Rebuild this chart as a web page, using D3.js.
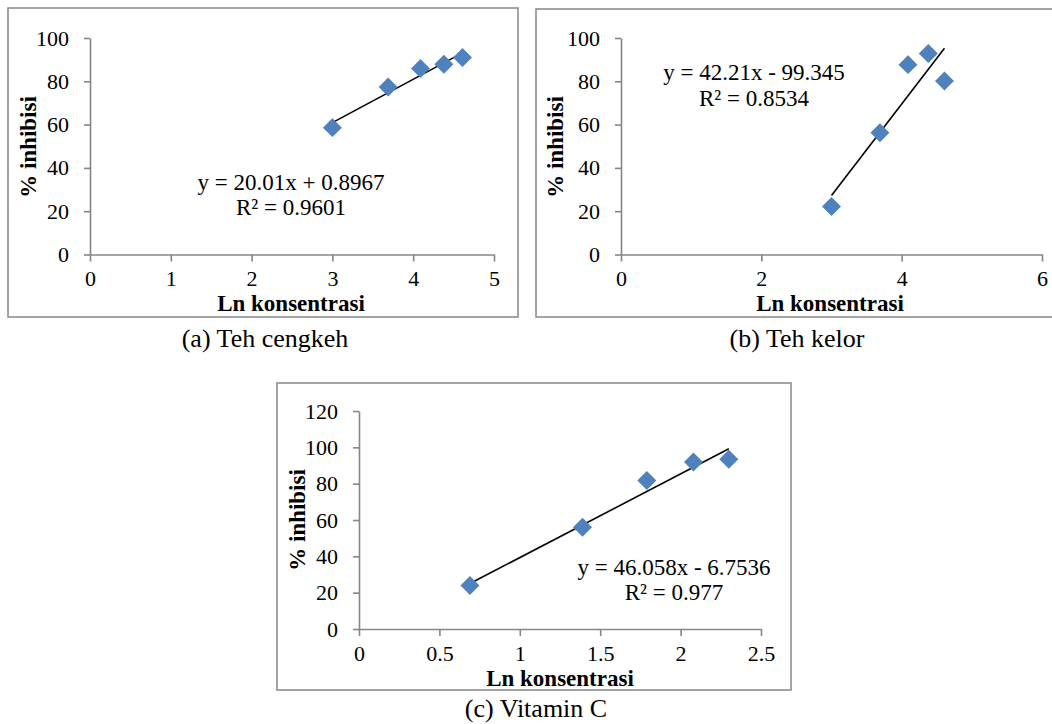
<!DOCTYPE html>
<html>
<head>
<meta charset="utf-8">
<script src="https://cdn.jsdelivr.net/npm/d3@7"></script>
<style>
  html, body { margin: 0; padding: 0; background: #fff; }
  svg { display: block; }
  svg text { font-family: "Liberation Serif", "DejaVu Serif", "Times New Roman", serif !important; fill: #000; }
</style>
</head>
<body>
<svg id="chart" width="1052" height="724"></svg>
<script>
// ---- data ----
const lnA = [3.00, 3.69, 4.09, 4.38, 4.61];
const inhA = [58.6, 77.4, 85.9, 87.9, 91.0];
const lnB = [3.00, 3.69, 4.09, 4.38, 4.61];
const inhB = [22.2, 56.2, 87.7, 92.8, 80.1];
const lnC = [0.69, 1.39, 1.79, 2.08, 2.30];
const inhC = [23.9, 56.0, 81.8, 91.9, 93.4];

const slopes = [20.01, 42.21, 46.058];
const intercepts = [0.8967, -99.345, -6.7536];
const eqLabels = ["y = 20.01x + 0.8967", "y = 42.21x - 99.345", "y = 46.058x - 6.7536"];
const r2Labels = ["R² = 0.9601", "R² = 0.8534", "R² = 0.977"];
const captions = ["(a) Teh cengkeh", "(b) Teh kelor", "(c) Vitamin C"];

const xTicksA = [0, 1, 2, 3, 4, 5];
const xTicksB = [0, 2, 4, 6];
const xTicksC = [0, 0.5, 1, 1.5, 2, 2.5];
const yTicksAB = [0, 20, 40, 60, 80, 100];
const yTicksC = [0, 20, 40, 60, 80, 100, 120];

const xTitle = "Ln konsentrasi";
const yTitle = "% inhibisi";

// ---- layout ----
const panels = [
  { xs: lnA, ys: inhA, xTicks: xTicksA, yTicks: yTicksAB, xDom: [0, 5], yDom: [0, 100],
    frame: [8, 8, 518, 317], px: [90, 494], py: [254.5, 38],
    eq: [291, 182, 207], xt: [291, 303], yt: [28, 147], cap: [265, 338] },
  { xs: lnB, ys: inhB, xTicks: xTicksB, yTicks: yTicksAB, xDom: [0, 6], yDom: [0, 100],
    frame: [536, 9, 1060, 317], px: [621, 1042], py: [254.5, 38],
    eq: [754, 72, 98], xt: [830, 303], yt: [555, 147], cap: [797, 338] },
  { xs: lnC, ys: inhC, xTicks: xTicksC, yTicks: yTicksC, xDom: [0, 2.5], yDom: [0, 120],
    frame: [277, 383, 791, 690], px: [359, 761], py: [629, 411],
    eq: [674, 567, 592], xt: [560, 678], yt: [297, 520], cap: [536, 708] }
];

const FONT = '"Liberation Serif", "DejaVu Serif", "Times New Roman", serif';
const svg = d3.select("#chart");
const axisColor = "#868686";
const blue = "#4F81BD";

panels.forEach((p, i) => {
  const g = svg.append("g");
  const [fx0, fy0, fx1, fy1] = p.frame;
  g.append("rect")
    .attr("x", fx0).attr("y", fy0)
    .attr("width", fx1 - fx0).attr("height", fy1 - fy0)
    .attr("fill", "#fff").attr("stroke", "#8e8e8e").attr("stroke-width", 1.6);

  const x = d3.scaleLinear().domain(p.xDom).range(p.px);
  const y = d3.scaleLinear().domain(p.yDom).range(p.py);

  const yAxis = g.append("g").attr("transform", `translate(${p.px[0]},0)`)
    .call(d3.axisLeft(y).tickValues(p.yTicks).tickFormat(String).tickSize(6).tickSizeOuter(0).tickPadding(15));
  const xAxis = g.append("g").attr("transform", `translate(0,${p.py[0]})`)
    .call(d3.axisBottom(x).tickValues(p.xTicks).tickFormat(String).tickSize(7).tickSizeOuter(0).tickPadding(9));
  [yAxis, xAxis].forEach(a => {
    a.attr("font-family", FONT).attr("font-size", 22);
    a.selectAll("path, line").attr("stroke", axisColor).attr("stroke-width", 1.6);
    a.selectAll("text").style("font-size", "22px").attr("fill", "#000").style("font-family", FONT);
  });

  // trend line
  const x0 = d3.min(p.xs), x1 = d3.max(p.xs);
  g.append("line")
    .attr("x1", x(x0)).attr("y1", y(slopes[i] * x0 + intercepts[i]))
    .attr("x2", x(x1)).attr("y2", y(slopes[i] * x1 + intercepts[i]))
    .attr("stroke", "#000").attr("stroke-width", 1.6);

  // markers
  const pts = p.xs.map((v, k) => [v, p.ys[k]]);
  g.selectAll("path.pt").data(pts).enter().append("path")
    .attr("class", "pt")
    .attr("d", d3.symbol().type(d3.symbolSquare).size(180))
    .attr("transform", d => `translate(${x(d[0])},${y(d[1])}) rotate(45)`)
    .attr("fill", blue);

  // equation
  g.append("text").attr("x", p.eq[0]).attr("y", p.eq[1]).attr("dy", "0.35em")
    .attr("text-anchor", "middle").style("font-family", FONT).style("font-size", "23px").text(eqLabels[i]);
  g.append("text").attr("x", p.eq[0]).attr("y", p.eq[2]).attr("dy", "0.35em")
    .attr("text-anchor", "middle").style("font-family", FONT).style("font-size", "23px").text(r2Labels[i]);

  // axis titles
  g.append("text").attr("x", p.xt[0]).attr("y", p.xt[1]).attr("dy", "0.35em")
    .attr("text-anchor", "middle").style("font-family", FONT).style("font-size", "23px").style("font-weight", "bold").text(xTitle);
  g.append("text").attr("transform", `translate(${p.yt[0]},${p.yt[1]}) rotate(-90)`).attr("dy", "0.35em")
    .attr("text-anchor", "middle").style("font-family", FONT).style("font-size", "23px").style("font-weight", "bold").text(yTitle);

  // caption
  svg.append("text").attr("x", p.cap[0]).attr("y", p.cap[1]).attr("dy", "0.35em")
    .attr("text-anchor", "middle").style("font-family", FONT).style("font-size", "26px").text(captions[i]);
});
</script>
</body>
</html>
